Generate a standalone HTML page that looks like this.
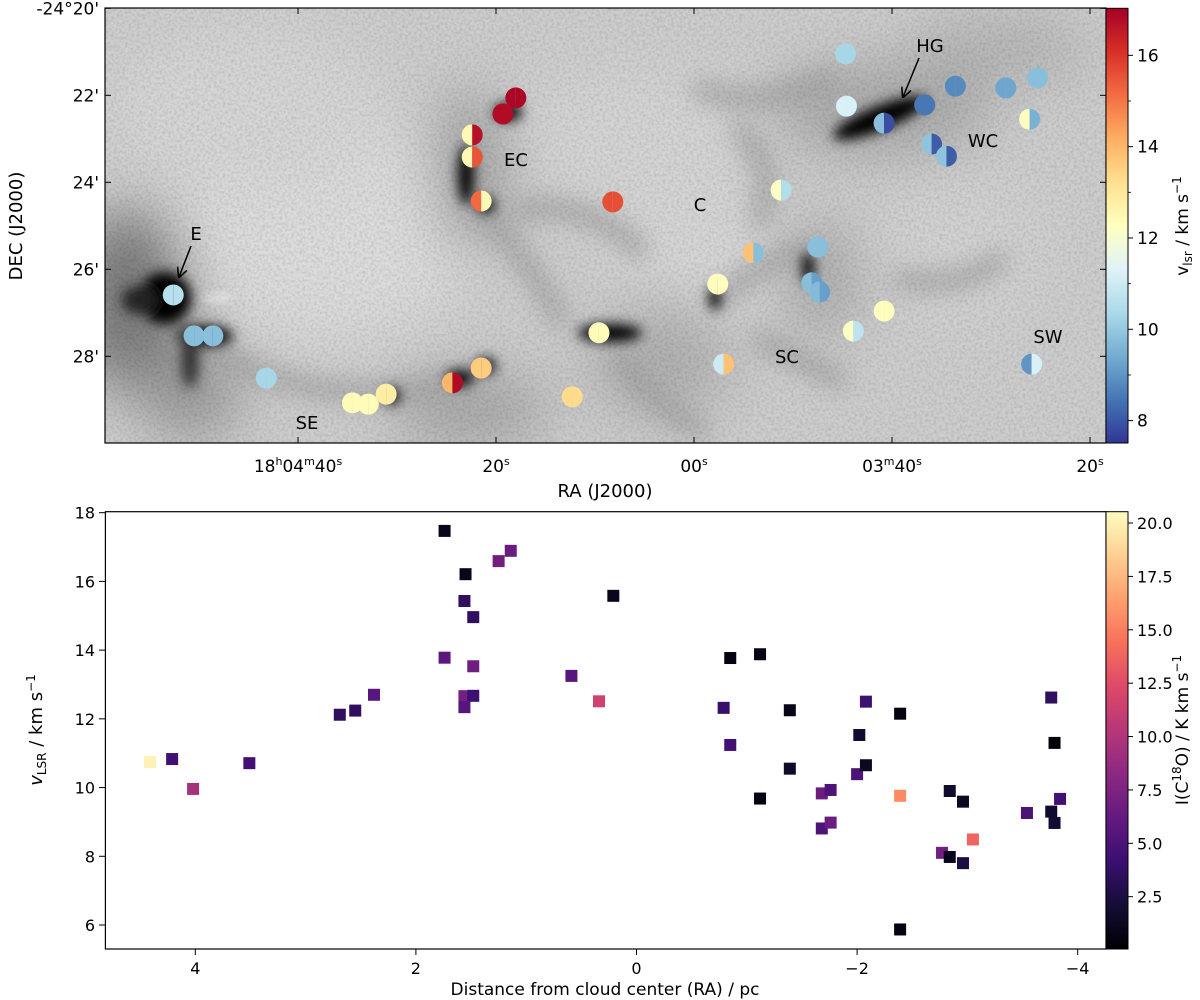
<!DOCTYPE html>
<html><head><meta charset="utf-8"><title>Cloud velocity map</title>
<style>
html,body{margin:0;padding:0;background:#fff;}
svg{display:block;font-family:"DejaVu Sans","Liberation Sans",sans-serif;}
</style></head>
<body>
<svg id="fig" width="1200" height="1000" viewBox="0 0 1200 1000" xmlns="http://www.w3.org/2000/svg">
<defs>
  <filter id="b4" x="-50%" y="-50%" width="200%" height="200%"><feGaussianBlur stdDeviation="4"/></filter>
  <filter id="b6" x="-50%" y="-50%" width="200%" height="200%"><feGaussianBlur stdDeviation="6"/></filter>
  <filter id="b14" x="-50%" y="-50%" width="200%" height="200%"><feGaussianBlur stdDeviation="12"/></filter>
  <filter id="b30" x="-50%" y="-50%" width="200%" height="200%"><feGaussianBlur stdDeviation="28"/></filter>
  <filter id="noise" x="0" y="0" width="100%" height="100%">
    <feTurbulence type="fractalNoise" baseFrequency="0.35" numOctaves="2" seed="3"/>
    <feColorMatrix type="matrix" values="0 0 0 0 0  0 0 0 0 0  0 0 0 0 0  0 0 0 -1.2 0.75"/>
  </filter>
  <clipPath id="imgclip"><rect x="105" y="8" width="1001" height="435"/></clipPath>
  <linearGradient id="rdylbu" x1="0" y1="1" x2="0" y2="0">
    <stop offset="0" stop-color="#313695"/><stop offset="0.1" stop-color="#4575b4"/><stop offset="0.2" stop-color="#74add1"/>
    <stop offset="0.3" stop-color="#abd9e9"/><stop offset="0.4" stop-color="#e0f3f8"/><stop offset="0.5" stop-color="#ffffbf"/>
    <stop offset="0.6" stop-color="#fee090"/><stop offset="0.7" stop-color="#fdae61"/><stop offset="0.8" stop-color="#f46d43"/>
    <stop offset="0.9" stop-color="#d73027"/><stop offset="1" stop-color="#a50026"/>
  </linearGradient>
  <linearGradient id="magma" x1="0" y1="1" x2="0" y2="0">
    <stop offset="0" stop-color="#000004"/><stop offset="0.1" stop-color="#140e36"/><stop offset="0.2" stop-color="#3b0f70"/>
    <stop offset="0.3" stop-color="#641a80"/><stop offset="0.4" stop-color="#8c2981"/><stop offset="0.5" stop-color="#b73779"/>
    <stop offset="0.6" stop-color="#de4968"/><stop offset="0.7" stop-color="#f7705c"/><stop offset="0.8" stop-color="#fe9f6d"/>
    <stop offset="0.9" stop-color="#fecf92"/><stop offset="1" stop-color="#fcfdbf"/>
  </linearGradient>
  <marker id="arr" viewBox="0 0 10 10" refX="9" refY="5" markerWidth="7" markerHeight="7" orient="auto"><path d="M0,0 L10,5 L0,10" fill="none" stroke="#000" stroke-width="1.5"/></marker>
</defs>

<g clip-path="url(#imgclip)">
  <rect x="105" y="8" width="1001" height="435" fill="#cdcdcd"/>
  <g filter="url(#b30)">
    <ellipse cx="330" cy="230" rx="150" ry="110" fill="#dcdcdc"/>
    <ellipse cx="250" cy="110" rx="140" ry="80" fill="#d6d6d6"/>
    <ellipse cx="640" cy="140" rx="120" ry="70" fill="#d4d4d4"/>
    <ellipse cx="700" cy="260" rx="90" ry="60" fill="#d6d6d6"/>
    <ellipse cx="960" cy="250" rx="80" ry="70" fill="#d2d2d2"/>
    <ellipse cx="130" cy="300" rx="60" ry="90" fill="#7a7a7a"/>
    <ellipse cx="190" cy="390" rx="50" ry="50" fill="#999"/>
    <ellipse cx="470" cy="410" rx="80" ry="35" fill="#a4a4a4"/>
    <ellipse cx="470" cy="170" rx="35" ry="80" fill="#a0a0a0"/>
    <ellipse cx="880" cy="110" rx="110" ry="45" fill="#a8a8a8"/>
    <ellipse cx="1000" cy="50" rx="90" ry="35" fill="#b4b4b4"/>
    <ellipse cx="820" cy="280" rx="40" ry="60" fill="#acacac"/>
    <ellipse cx="660" cy="360" rx="70" ry="60" fill="#b0b0b0"/>
  </g>
  <g filter="url(#b14)" stroke="#a0a0a0" stroke-width="16" fill="none" stroke-linecap="round">
    <path d="M200,345 Q260,380 330,390 T470,380"/>
    <path d="M480,210 Q530,260 560,320"/>
    <path d="M520,210 Q590,200 640,250"/>
    <path d="M720,300 Q760,260 810,250"/>
    <path d="M740,130 Q780,170 760,220"/>
    <path d="M700,90 Q760,110 830,80"/>
    <path d="M900,280 Q960,290 1000,260"/>
    <path d="M620,360 Q650,400 700,430"/>
    <path d="M760,340 Q800,360 840,380"/>
  </g>
  <rect x="105" y="8" width="1001" height="435" filter="url(#noise)" opacity="0.18"/>
  <g filter="url(#b6)" fill="#000">
    <ellipse cx="165" cy="298" rx="26" ry="26"/>
    <ellipse cx="140" cy="300" rx="18" ry="14" fill="#222"/>
    <ellipse cx="205" cy="336" rx="28" ry="10"/>
    <ellipse cx="190" cy="360" rx="9" ry="28" fill="#333"/>
    <ellipse cx="880" cy="118" rx="50" ry="12" transform="rotate(-22 880 118)"/>
    <ellipse cx="466" cy="175" rx="8" ry="30"/>
    <ellipse cx="508" cy="112" rx="14" ry="9"/>
    <ellipse cx="610" cy="333" rx="32" ry="9"/>
    <ellipse cx="715" cy="298" rx="6" ry="12"/>
    <ellipse cx="808" cy="268" rx="6" ry="16"/>
    <ellipse cx="460" cy="378" rx="14" ry="8"/>
    <ellipse cx="486" cy="366" rx="10" ry="8"/>
    <ellipse cx="392" cy="396" rx="8" ry="8"/>
    <ellipse cx="486" cy="205" rx="9" ry="8"/>
  </g>
  <ellipse cx="218" cy="298" rx="16" ry="5" fill="#fff" filter="url(#b4)" opacity="0.4"/>
</g>
<rect x="105" y="8" width="1001" height="435" fill="none" stroke="#000" stroke-width="1.2"/>

<g id="mapMarks"></g>
<g id="mapAxes"></g>

<g font-size="18" fill="#000" text-anchor="middle">
  <text x="930" y="52">HG</text>
  <text x="983" y="147">WC</text>
  <text x="516" y="166">EC</text>
  <text x="700" y="211">C</text>
  <text x="196" y="240">E</text>
  <text x="787" y="363">SC</text>
  <text x="1048" y="343">SW</text>
  <text x="307" y="429">SE</text>
</g>
<line x1="919" y1="58" x2="903" y2="97" stroke="#000" stroke-width="1.5" marker-end="url(#arr)"/>
<line x1="191" y1="246" x2="179" y2="277" stroke="#000" stroke-width="1.5" marker-end="url(#arr)"/>

<rect x="1106" y="8.3" width="22" height="434.7" fill="url(#rdylbu)" stroke="#000" stroke-width="1"/>
<g id="cb1"></g>
<text transform="translate(1188,226) rotate(-90)" font-size="17" text-anchor="middle">v<tspan font-size="12" dy="4">lsr</tspan><tspan dy="-4"> / km s</tspan><tspan font-size="12" dy="-7">−1</tspan></text>

<text x="605" y="497" font-size="18" text-anchor="middle">RA (J2000)</text>
<text transform="translate(22,226) rotate(-90)" font-size="18" text-anchor="middle">DEC (J2000)</text>

<rect x="105.4" y="511.7" width="1000.6" height="437.3" fill="#fff" stroke="#000" stroke-width="1.2"/>
<g id="scat"></g>
<g id="botAxes"></g>
<rect x="1106" y="511.7" width="22" height="437.3" fill="url(#magma)" stroke="#000" stroke-width="1"/>
<g id="cb2"></g>
<text transform="translate(1188,730) rotate(-90)" font-size="17" text-anchor="middle">I(C<tspan font-size="12" dy="-7">18</tspan><tspan dy="7">O) / K km s</tspan><tspan font-size="12" dy="-7">−1</tspan></text>
<text x="605" y="995" font-size="17" text-anchor="middle">Distance from cloud center (RA) / pc</text>
<text transform="translate(42,730) rotate(-90)" font-size="18" text-anchor="middle"><tspan font-style="italic">v</tspan><tspan font-size="12" dy="4">LSR</tspan><tspan dy="-4"> / km s</tspan><tspan font-size="12" dy="-7">−1</tspan></text>
</svg>

<script>
const mapRA   = [52.6,50.5,48.6,43.2,34.5,32.9,31.1,24.4,21.5,12.3,9.6,8.2,21.5,22.4,22.4,19.3,18.0,-2.4,-3.0,-6.0,-8.8,-12.5,-11.9,-12.7,-16.1,-19.2,-15.3,-15.4,-19.2,-23.3,-24.0,-25.5,-26.4,-31.5,-34.7,-33.9,-34.1];
const mapDec  = [26.59,27.53,27.53,28.50,29.07,29.10,28.87,28.61,28.27,28.93,27.46,24.45,24.43,22.91,23.42,22.43,22.06,26.34,28.18,25.62,24.18,25.49,26.31,26.52,27.42,26.96,21.05,22.25,22.64,22.22,23.12,23.40,21.79,21.83,21.60,22.55,28.18];
const velLeft = [10.6,9.8,9.8,10.3,12.4,12.4,12.8,14.0,13.6,13.3,12.4,15.6,15.2,12.5,12.5,16.8,16.9,12.3,11.0,13.8,12.2,9.8,9.8,9.7,12.2,12.3,10.3,11.2,9.8,8.5,9.9,9.9,8.8,9.3,9.8,12.3,9.0];
const velRight= [10.6,9.8,9.8,10.3,12.4,12.4,12.8,16.8,13.6,13.3,12.4,15.6,12.5,16.7,15.5,16.8,16.9,12.3,13.8,9.8,10.5,9.8,9.2,9.2,10.7,12.3,10.3,11.2,7.9,8.5,8.1,8.1,8.8,9.3,9.8,9.5,11.2];
const raTicks = [40,20,0,-20,-40];
const raTickLabels = [["18","h","04","m","40","s"],["20","s"],["00","s"],["03","m","40","s"],["20","s"]];
const decTicks = [20,22,24,26,28];
const decTickLabels = ["-24°20'","22'","24'","26'","28'"];
const velTicks = [8,10,12,14,16];

const distPc = [4.41,4.21,4.02,3.51,2.69,2.55,2.38,1.74,1.14,1.25,1.55,1.56,1.48,1.74,1.48,0.59,0.34,0.21,1.56,1.48,1.56,
  -0.85,-1.12,-0.79,-0.85,-1.39,-1.39,-1.12,-1.68,-1.76,-1.68,-1.76,-2.00,-2.08,-2.02,-2.08,-2.39,-2.39,-2.39,-2.84,-2.96,-3.05,-2.77,-2.84,-2.96,-3.54,-3.76,-3.79,-3.84,-3.76,-3.79];
const vlsr = [10.74,10.83,9.96,10.71,12.12,12.24,12.70,17.47,16.89,16.59,16.21,15.43,14.96,13.78,13.53,13.25,12.51,15.58,12.66,12.67,12.34,
  13.77,13.88,12.32,11.24,12.25,10.55,9.68,9.83,9.93,8.81,8.98,10.39,10.65,11.53,12.50,12.15,9.76,5.87,9.90,9.59,8.49,8.10,7.98,7.80,9.26,12.62,11.30,9.67,9.30,8.97];
const intensity = [20,4.5,9.5,4.5,3.5,3.5,5.5,1.0,6.5,6.8,1.0,3.5,3.5,5.8,6.8,5.5,11.5,1.0,7.0,4.3,5.5,
  0.5,0.8,4.0,4.5,0.8,1.5,0.5,6.5,5.0,5.0,6.5,5.0,1.2,1.8,4.3,0.5,15.5,0.5,1.8,1.2,13.8,6.8,1.0,2.5,5.0,3.5,0.3,4.5,1.8,2.0];
const distTicks = [4,2,0,-2,-4];
const vTicks = [6,8,10,12,14,16,18];
const iTicks = [2.5,5.0,7.5,10.0,12.5,15.0,17.5,20.0];

const NS="http://www.w3.org/2000/svg";
function mk(tag,attrs,parent){const e=document.createElementNS(NS,tag);for(const k in attrs)e.setAttribute(k,attrs[k]);parent.appendChild(e);return e;}
function hex(h){return [parseInt(h.slice(1,3),16),parseInt(h.slice(3,5),16),parseInt(h.slice(5,7),16)];}
function cmap(stops,t){t=Math.max(0,Math.min(1,t));const n=stops.length-1;const i=Math.min(n-1,Math.floor(t*n));const f=t*n-i;const a=hex(stops[i]),b=hex(stops[i+1]);return "rgb("+a.map((v,k)=>Math.round(v+(b[k]-v)*f)).join(",")+")";}
const RDYLBU=["#313695","#4575b4","#74add1","#abd9e9","#e0f3f8","#ffffbf","#fee090","#fdae61","#f46d43","#d73027","#a50026"];
const MAGMA=["#000004","#140e36","#3b0f70","#641a80","#8c2981","#b73779","#de4968","#f7705c","#fe9f6d","#fecf92","#fcfdbf"];
const VMIN=7.51,VMAX=17.03, IMIN=0.05,IMAX=20.53;
const velColor=v=>cmap(RDYLBU,(v-VMIN)/(VMAX-VMIN));
const intColor=v=>cmap(MAGMA,(v-IMIN)/(IMAX-IMIN));

const xRA=ra=>694-ra*9.9;
const yDec=d=>8.3+(d-20)*43.5;
const yVel=v=>443-(v-VMIN)/(VMAX-VMIN)*434.7;
const xD=d=>636.5-d*110.3;
const yV=v=>925-(v-6)*34.36;
const yI=v=>949-(v-IMIN)/(IMAX-IMIN)*437.3;

const mm=document.getElementById('mapMarks');
const R=10.5;
for(let i=0;i<mapRA.length;i++){
  const cx=xRA(mapRA[i]), cy=yDec(mapDec[i]);
  const g=mk('g',{},mm);
  
  
  mk('path',{d:`M${cx},${cy-R} A${R},${R} 0 0 0 ${cx},${cy+R} Z`,fill:velColor(velLeft[i])},g);
  mk('path',{d:`M${cx},${cy-R} A${R},${R} 0 0 1 ${cx},${cy+R} Z`,fill:velColor(velRight[i])},g);
}

const ma=document.getElementById('mapAxes');
raTicks.forEach((r,i)=>{
  const x=xRA(r);
  mk('line',{x1:x,y1:443,x2:x,y2:437,stroke:'#000','stroke-width':1},ma);
  mk('line',{x1:x,y1:8.3,x2:x,y2:14,stroke:'#000','stroke-width':1},ma);
  const t=mk('text',{x:x,y:472,'font-size':17,'text-anchor':'middle'},ma);
  
  
  raTickLabels[i].forEach((s,k)=>{const ts=document.createElementNS(NS,'tspan');ts.textContent=s;if(k%2===1){ts.setAttribute('font-size','11');ts.setAttribute('dy','-7');}else if(k>0){ts.setAttribute('dy','7');}t.appendChild(ts);});
});
decTicks.forEach((d,i)=>{
  const y=yDec(d);
  mk('line',{x1:105,y1:y,x2:111,y2:y,stroke:'#000','stroke-width':1},ma);
  mk('line',{x1:1106,y1:y,x2:1100,y2:y,stroke:'#000','stroke-width':1},ma);
  const t=mk('text',{x:99,y:y+6,'font-size':17,'text-anchor':'end'},ma);
  
  
  t.textContent=decTickLabels[i];
});
const cb1=document.getElementById('cb1');
velTicks.forEach(v=>{
  const y=yVel(v);
  mk('line',{x1:1128,y1:y,x2:1133,y2:y,stroke:'#000','stroke-width':1},cb1);
  const t=mk('text',{x:1137,y:y+6,'font-size':17},cb1);
  
  
  t.textContent=v;
});
[9,11,13,15].forEach(v=>{const y=yVel(v);mk('line',{x1:1128,y1:y,x2:1131,y2:y,stroke:'#000','stroke-width':0.8},cb1);});

const sc=document.getElementById('scat');
const S=12;
for(let i=0;i<distPc.length;i++){
  const r=mk('rect',{x:xD(distPc[i])-S/2,y:yV(vlsr[i])-S/2,width:S,height:S,fill:intColor(intensity[i])},sc);
  
  
}
const ba=document.getElementById('botAxes');
distTicks.forEach(d=>{
  const x=xD(d);
  mk('line',{x1:x,y1:949,x2:x,y2:955,stroke:'#000','stroke-width':1},ba);
  const t=mk('text',{x:x,y:974,'font-size':16,'text-anchor':'middle'},ba);
  
  
  t.textContent=d<0?('−'+(-d)):d;
});
vTicks.forEach(v=>{
  const y=yV(v);
  mk('line',{x1:105.4,y1:y,x2:99,y2:y,stroke:'#000','stroke-width':1},ba);
  const t=mk('text',{x:95,y:y+6,'font-size':16,'text-anchor':'end'},ba);
  
  
  t.textContent=v;
});
const cb2=document.getElementById('cb2');
iTicks.forEach(v=>{
  const y=yI(v);
  mk('line',{x1:1128,y1:y,x2:1133,y2:y,stroke:'#000','stroke-width':1},cb2);
  const t=mk('text',{x:1137,y:y+6,'font-size':16},cb2);
  
  
  t.textContent=v.toFixed(1);
});
</script>
</body></html>
